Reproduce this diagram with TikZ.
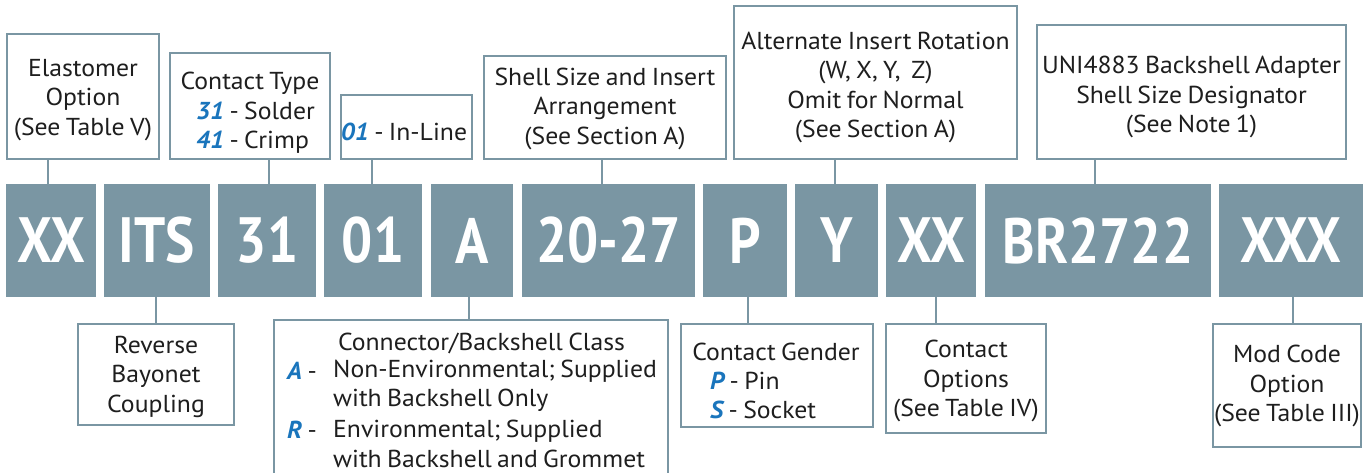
\documentclass[tikz,border=0pt]{standalone}
\usepackage{fontspec}
\setmainfont[FakeStretch=1.05,WordSpace=0.78]{PT Sans}
\newfontfamily\codefont[FakeStretch=0.86]{PT Sans}
\definecolor{slate}{HTML}{7A96A3}
\definecolor{bluel}{HTML}{1A75BC}
\definecolor{ink}{HTML}{1E1E1E}
\newcommand{\bl}[1]{{\color{bluel}\bfseries\itshape #1}}
\newcommand{\linkup}[3]{\draw[conn] ([xshift=#3pt]#1.north) -- ([xshift=#3pt]#1.north |- #2.south);}
\newcommand{\linkdown}[3]{\draw[conn] ([xshift=#3pt]#1.south) -- ([xshift=#3pt]#1.south |- #2.north);}
\begin{document}
\begin{tikzpicture}[x=1pt,y=-1pt,
  code/.style={fill=slate, draw=none, minimum height=113pt, inner sep=0pt, text=white,
    font=\codefont\bfseries\fontsize{64}{64}\selectfont},
  lbox/.style={draw=slate, line width=2pt, inner sep=0pt},
  lbl/.style={align=center, font=\fontsize{24.5}{29.5}\selectfont, inner sep=0pt, text=ink},
  conn/.style={draw=slate, line width=2.5pt}]
\useasboundingbox (0,0) rectangle (1369,472);
\clip (0,0) rectangle (1369,472);
% code boxes
\node[code, minimum width=90pt]  (cXX)  at (51,240.5)   {\raisebox{-3.5pt}{XX}};
\node[code, minimum width=106pt] (cITS) at (157,240.5)  {\raisebox{-3.5pt}{ITS}};
\node[code, minimum width=98pt]  (c31)  at (267,240.5)  {\raisebox{-3.5pt}{31}};
\node[code, minimum width=98pt]  (c01)  at (373,240.5)  {\raisebox{-3.5pt}{01}};
\node[code, minimum width=82pt]  (cA)   at (472,240.5)  {\raisebox{-3.5pt}{A}};
\node[code, minimum width=173pt] (cSz)  at (608.5,240.5){\raisebox{-3.5pt}{20-27}};
\node[code, minimum width=84pt]  (cP)   at (745,240.5)  {\raisebox{-3.5pt}{P}};
\node[code, minimum width=83pt]  (cY)   at (836.5,240.5){\raisebox{-3.5pt}{Y}};
\node[code, minimum width=90pt]  (cXXb) at (931,240.5)  {\raisebox{-3.5pt}{XX}};
\node[code, minimum width=226pt] (cBR)  at (1098,240.5) {\raisebox{-3.5pt}{BR2722}};
\node[code, minimum width=144pt] (cXXX) at (1291,240.5) {\raisebox{-3.5pt}{XXX}};
% label boxes
\node[lbox, minimum width=152pt, minimum height=125pt] (bElast) at (83,96.5) {};
\node[lbox, minimum width=160pt, minimum height=106pt] (bCT)    at (250,106) {};
\node[lbox, minimum width=131pt, minimum height=64pt]  (b01)    at (406.5,127) {};
\node[lbox, minimum width=242pt, minimum height=103pt] (bShell) at (605,107.5) {};
\node[lbox, minimum width=283pt, minimum height=153pt] (bAlt)   at (875.5,82.5) {};
\node[lbox, minimum width=309pt, minimum height=134pt] (bUni)   at (1191.5,92) {};
\node[lbox, minimum width=156pt, minimum height=101pt] (bRev)   at (156,374.5) {};
\node[lbox, minimum width=394pt, minimum height=170pt] (bCls)   at (471,405) {};
\node[lbox, minimum width=192pt, minimum height=103pt] (bGen)   at (777,375.5) {};
\node[lbox, minimum width=160pt, minimum height=109pt] (bOpt)   at (966,378.5) {};
\node[lbox, minimum width=148pt, minimum height=123pt] (bMod)   at (1287,385.5) {};
% connectors
\linkup{cXX}{bElast}{-3}
\linkup{c31}{bCT}{2}
\linkup{c01}{b01}{-1}
\linkup{cSz}{bShell}{-6.5}
\linkup{cY}{bAlt}{-1.5}
\linkup{cBR}{bUni}{-3}
\linkdown{cITS}{bRev}{-1}
\linkdown{cA}{bCls}{-3}
\linkdown{cP}{bGen}{3}
\linkdown{cXXb}{bOpt}{5}
\linkdown{cXXX}{bMod}{2}
% texts
\node[lbl] (tElast) at (83,100) {Elastomer\\Option\\(See Table V)};
\node[lbl] (tCT) at (250,83) {Contact Type};
\node[lbl, align=left, anchor=west] (tCT2) at (196,127.5) {\bl{31} - Solder\\\bl{41} - Crimp};
\node[lbl] (t01) at (404,132) {\bl{01} - In-Line};
\node[lbl] (tShell) at (605,108.5) {Shell Size and Insert\\Arrangement\\(See Section A)};
\node[lbl] (tAlt) at (875.5,87.5) {Alternate Insert Rotation\\(W, X, Y,\ \ Z)\\Omit for Normal\\(See Section A)};
\node[lbl] (tUni) at (1191.5,97) {UNI4883 Backshell Adapter\\Shell Size Designator\\(See Note 1)};
\node[lbl] (tRev) at (156,376.5) {Reverse\\Bayonet\\Coupling};
\node[lbl] (tCls) at (481.5,343) {Connector/Backshell Class};
\node[lbl, anchor=west] (tClsA) at (287,371) {\bl{A} -};
\node[lbl, align=left, anchor=west] (tClsAt) at (333,386) {Non-Environmental; Supplied\\with Backshell Only};
\node[lbl, anchor=west] (tClsR) at (287,430) {\bl{R} -};
\node[lbl, align=left, anchor=west] (tClsRt) at (333,444) {Environmental; Supplied\\with Backshell and Grommet};
\node[lbl] (tGen) at (776,352) {Contact Gender};
\node[lbl, align=left, anchor=west] (tGen2) at (710,395.5) {\bl{P} - Pin\\\bl{S} - Socket};
\node[lbl] (tOpt) at (966,381) {Contact\\Options\\(See Table IV)};
\node[lbl] (tMod) at (1287,386) {Mod Code\\Option\\(See Table III)};
\end{tikzpicture}
\end{document}
